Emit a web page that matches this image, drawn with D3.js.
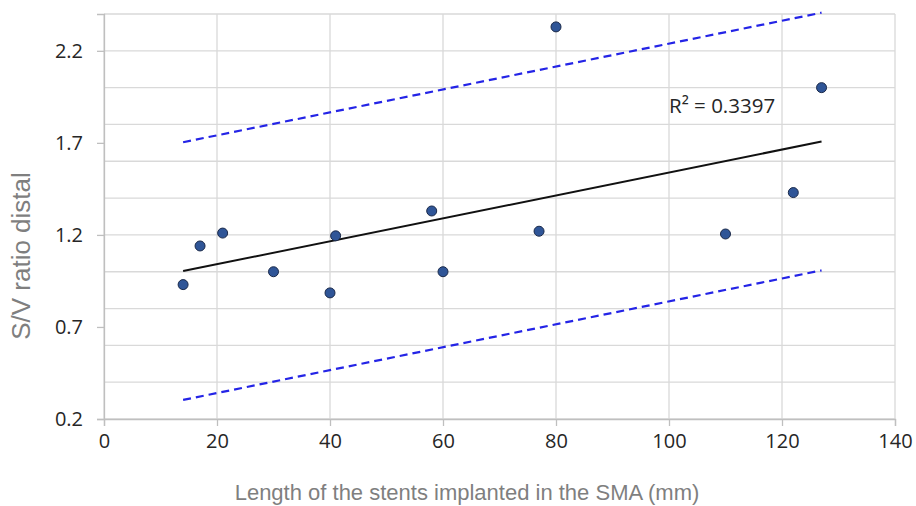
<!DOCTYPE html>
<html>
<head>
<meta charset="utf-8">
<script src="https://cdn.jsdelivr.net/npm/d3@7"></script>
<style>
  body { margin: 0; background: #fff; }
  svg { display: block; }
</style>
</head>
<body>
<div id="chart"></div>
<script>
// stent length (mm) vs S/V ratio distal
const lengths = [14, 17, 21, 30, 40, 41, 58, 60, 77, 80, 110, 122, 127];
const ratios = [0.93, 1.14, 1.21, 1.0, 0.885, 1.195, 1.33, 1.0, 1.22, 2.33, 1.205, 1.43, 2.0];
const xTicks = [0, 20, 40, 60, 80, 100, 120, 140];
const yTicks = [0.2, 0.7, 1.2, 1.7, 2.2];
const yGrid = [0.2, 0.4, 0.6, 0.8, 1.0, 1.2, 1.4, 1.6, 1.8, 2.0, 2.2, 2.4];
const predictionBand = 0.7;
const r2Label = 'R² = 0.3397';

const width = 916, height = 506;
const margin = { top: 14, right: 21, bottom: 87, left: 104 };

const svg = d3.select('#chart')
  .append('svg')
  .attr('width', width)
  .attr('height', height);

const x = d3.scaleLinear()
  .domain([0, 140])
  .range([margin.left, width - margin.right]);

const y = d3.scaleLinear()
  .domain([0.2, 2.4])
  .range([height - margin.bottom, margin.top]);

// gridlines
svg.append('g')
  .selectAll('line.h')
  .data(yGrid)
  .join('line')
  .attr('x1', x(0)).attr('x2', x(140))
  .attr('y1', d => y(d)).attr('y2', d => y(d))
  .attr('stroke', '#d9d9d9')
  .attr('stroke-width', 1.3);

svg.append('g')
  .selectAll('line.v')
  .data(xTicks)
  .join('line')
  .attr('x1', d => x(d)).attr('x2', d => x(d))
  .attr('y1', y(0.2)).attr('y2', y(2.4))
  .attr('stroke', '#d9d9d9')
  .attr('stroke-width', 1.3);

// axes
const xAxis = d3.axisBottom(x)
  .tickValues(xTicks)
  .tickSize(7)
  .tickPadding(8)
  .tickFormat(d3.format('d'));

const yAxis = d3.axisLeft(y)
  .tickValues(yTicks)
  .tickSize(7)
  .tickPadding(14)
  .tickFormat(d3.format('.1f'));

const gx = svg.append('g')
  .attr('transform', `translate(0,${y(0.2)})`)
  .call(xAxis);

const gy = svg.append('g')
  .attr('transform', `translate(${x(0)},0)`)
  .call(yAxis);

[gx, gy].forEach(g => {
  g.select('.domain').attr('stroke', '#bfbfbf').attr('stroke-width', 1.3);
  g.selectAll('.tick line').attr('stroke', '#bfbfbf').attr('stroke-width', 1.3);
  g.selectAll('.tick text')
    .attr('fill', '#262626')
    .style('font-family', '"Open Sans", sans-serif')
    .style('font-size', '20px');
});

// linear regression from the data
const mx = d3.mean(lengths), my = d3.mean(ratios);
let sxy = 0, sxx = 0;
lengths.forEach((v, i) => {
  sxy += (v - mx) * (ratios[i] - my);
  sxx += (v - mx) * (v - mx);
});
const slope = sxy / sxx;
const intercept = my - slope * mx;
const [xMin, xMax] = d3.extent(lengths);
const fit = v => intercept + slope * v;

const lineGen = d3.line()
  .x(d => x(d[0]))
  .y(d => y(d[1]));

svg.append('path')
  .datum([[xMin, fit(xMin) + predictionBand], [xMax, fit(xMax) + predictionBand]])
  .attr('d', lineGen)
  .attr('fill', 'none')
  .attr('stroke', '#2424e6')
  .attr('stroke-width', 2.2)
  .attr('stroke-dasharray', '8,5');

svg.append('path')
  .datum([[xMin, fit(xMin) - predictionBand], [xMax, fit(xMax) - predictionBand]])
  .attr('d', lineGen)
  .attr('fill', 'none')
  .attr('stroke', '#2424e6')
  .attr('stroke-width', 2.2)
  .attr('stroke-dasharray', '8,5');

svg.append('path')
  .datum([[xMin, fit(xMin)], [xMax, fit(xMax)]])
  .attr('d', lineGen)
  .attr('fill', 'none')
  .attr('stroke', '#111')
  .attr('stroke-width', 2);

// points
svg.append('g')
  .selectAll('circle')
  .data(lengths.map((v, i) => [v, ratios[i]]))
  .join('circle')
  .attr('cx', d => x(d[0]))
  .attr('cy', d => y(d[1]))
  .attr('r', 5)
  .attr('fill', '#2f5597')
  .attr('stroke', '#1b2a4a')
  .attr('stroke-width', 1);

// R² label
svg.append('text')
  .attr('x', x(100))
  .attr('y', y(1.86))
  .attr('fill', '#262626')
  .style('font-family', '"Open Sans", sans-serif')
  .style('font-size', '20.5px')
  .text(r2Label);

// axis titles
svg.append('text')
  .attr('x', 467)
  .attr('y', 500)
  .attr('text-anchor', 'middle')
  .attr('fill', '#7f7f7f')
  .style('font-family', '"Liberation Sans", Arial, sans-serif')
  .style('font-size', '22px')
  .text('Length of the stents implanted in the SMA (mm)');

svg.append('text')
  .attr('transform', `translate(30,256) rotate(-90)`)
  .attr('text-anchor', 'middle')
  .attr('fill', '#7f7f7f')
  .style('font-family', '"Liberation Sans", Arial, sans-serif')
  .style('font-size', '26px')
  .text('S/V ratio distal');
</script>
</body>
</html>
